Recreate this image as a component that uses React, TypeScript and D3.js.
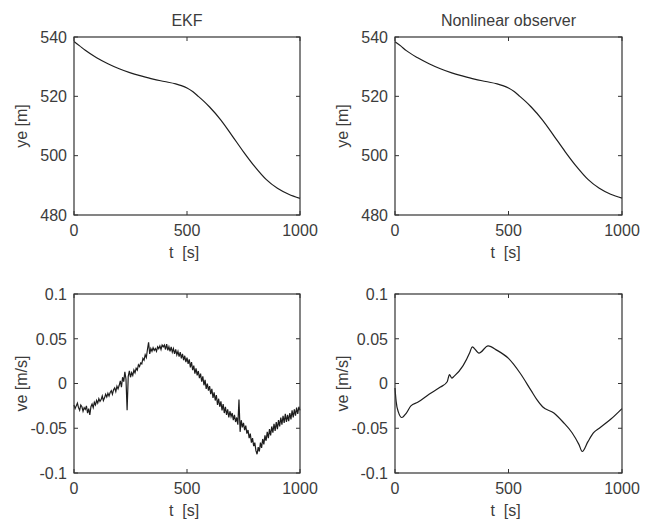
import React from 'react';
import * as d3 from 'd3';

// ye [m] position estimate (both estimators agree closely)
const yeTime = [0, 25, 50, 100, 150, 200, 250, 300, 350, 400, 450, 475, 500, 525, 550, 575, 600, 650, 700, 750, 800, 850, 900, 950, 1000];
const yeEkf = [538.5, 537, 535.5, 533, 531, 529.3, 527.9, 526.8, 525.8, 525, 524.2, 523.6, 522.8, 521.6, 520, 518.3, 516.4, 512, 506.7, 501.3, 496.3, 492, 489, 487, 485.6];
const yeObs = [538.4, 537, 535.4, 533, 531, 529.3, 527.9, 526.8, 525.8, 525, 524.2, 523.6, 522.8, 521.6, 520, 518.3, 516.4, 512, 506.7, 501.3, 496.3, 492, 489, 487, 485.7];

// ve [m/s] EKF, sampled every 5 s (noisy)
const veEkf = [
  -0.024, -0.028, -0.025, -0.022, -0.027, -0.030, -0.024, -0.026, -0.031, -0.027,
  -0.029, -0.025, -0.033, -0.028, -0.035, -0.026, -0.023, -0.027, -0.021, -0.024,
  -0.019, -0.022, -0.017, -0.020, -0.018, -0.014, -0.019, -0.016, -0.012, -0.015,
  -0.011, -0.014, -0.010, -0.008, -0.012, -0.007, -0.005, -0.009, -0.003, -0.006,
  -0.002, 0.003, -0.004, 0.007, 0.002, 0.013, 0.005, -0.030, 0.008, 0.014,
  0.007, 0.012, 0.009, 0.015, 0.012, 0.017, 0.015, 0.021, 0.019, 0.023,
  0.022, 0.028, 0.026, 0.032, 0.029, 0.038, 0.046, 0.033, 0.039, 0.036,
  0.040, 0.037, 0.039, 0.036, 0.041, 0.039, 0.042, 0.038, 0.043, 0.041,
  0.043, 0.038, 0.044, 0.037, 0.041, 0.036, 0.041, 0.035, 0.039, 0.033,
  0.038, 0.032, 0.036, 0.030, 0.035, 0.028, 0.033, 0.026, 0.031, 0.024,
  0.029, 0.022, 0.027, 0.018, 0.024, 0.015, 0.020, 0.011, 0.017, 0.009,
  0.014, 0.006, 0.011, 0.002, 0.008, -0.002, 0.004, -0.006, 0.000, -0.008,
  -0.003, -0.012, -0.006, -0.016, -0.010, -0.019, -0.013, -0.024, -0.017, -0.026,
  -0.020, -0.030, -0.023, -0.033, -0.026, -0.035, -0.029, -0.038, -0.031, -0.037,
  -0.033, -0.041, -0.035, -0.043, -0.038, -0.046, -0.018, -0.054, -0.041, -0.049,
  -0.044, -0.052, -0.047, -0.056, -0.052, -0.061, -0.056, -0.066, -0.061, -0.070,
  -0.066, -0.075, -0.079, -0.071, -0.076, -0.066, -0.072, -0.062, -0.068, -0.058,
  -0.064, -0.054, -0.061, -0.051, -0.058, -0.048, -0.055, -0.045, -0.053, -0.043,
  -0.051, -0.041, -0.048, -0.038, -0.046, -0.036, -0.044, -0.034, -0.043, -0.035,
  -0.042, -0.033, -0.040, -0.030, -0.038, -0.029, -0.036, -0.027, -0.034, -0.026,
  -0.030,
];

// ve [m/s] nonlinear observer (smooth)
const veObsTime = [0, 5, 15, 30, 50, 70, 100, 150, 200, 230, 240, 250, 260, 300, 330, 340, 370, 410, 450, 500, 550, 600, 625, 650, 700, 740, 780, 810, 825, 850, 875, 900, 950, 1000];
const veObs = [-0.005, -0.02, -0.032, -0.038, -0.033, -0.025, -0.021, -0.012, -0.004, 0.002, 0.01, 0.006, 0.008, 0.02, 0.035, 0.041, 0.034, 0.042, 0.037, 0.028, 0.012, -0.008, -0.018, -0.026, -0.033, -0.043, -0.055, -0.068, -0.076, -0.065, -0.055, -0.05, -0.04, -0.028];

const xTicks = [0, 500, 1000];
const yeTicks = [480, 500, 520, 540];
const veTicks = [-0.1, -0.05, 0, 0.05, 0.1];

const FONT = '"Liberation Sans", Arial, sans-serif';
const TXT = '#3c3c3c';
const FS = 16;

type PanelProps = {
  left: number; top: number; width: number; height: number;
  title?: string; ylabel: string;
  yDomain: [number, number]; yTicks: number[];
  fmt: (v: number) => string;
  points: [number, number][];
  smooth?: boolean;
};

const Panel = ({ left, top, width, height, title, ylabel, yDomain, yTicks, fmt, points, smooth }: PanelProps) => {
  const x = d3.scaleLinear().domain([0, 1000]).range([left, left + width]);
  const y = d3.scaleLinear().domain(yDomain).range([top + height, top]);
  const line = d3.line<[number, number]>().x(d => x(d[0])).y(d => y(d[1]));
  if (smooth) line.curve(d3.curveMonotoneX);
  const tl = 4;
  return (
    <g>
      {title && (
        <text x={left + width / 2} y={top - 11} textAnchor="middle" fontSize={FS} fill={TXT}>{title}</text>
      )}
      <path d={line(points) || ''} fill="none" stroke="#1e1e1e" strokeWidth={1.2} />
      <rect x={left} y={top} width={width} height={height} fill="none" stroke="#333" strokeWidth={1.2} />
      {xTicks.map(t => (
        <g key={'x' + t}>
          <line x1={x(t)} x2={x(t)} y1={top + height} y2={top + height - tl} stroke="#333" />
          <line x1={x(t)} x2={x(t)} y1={top} y2={top + tl} stroke="#333" />
          <text x={x(t)} y={top + height + 21} textAnchor="middle" fontSize={FS} fill={TXT}>{t}</text>
        </g>
      ))}
      {yTicks.map(t => (
        <g key={'y' + t}>
          <line x1={left} x2={left + tl} y1={y(t)} y2={y(t)} stroke="#333" />
          <line x1={left + width} x2={left + width - tl} y1={y(t)} y2={y(t)} stroke="#333" />
          <text x={left - 7} y={y(t)} dy="0.36em" textAnchor="end" fontSize={FS} fill={TXT}>{fmt(t)}</text>
        </g>
      ))}
      <text x={left + width / 2 - 3} y={top + height + 43} textAnchor="middle" fontSize={FS} fill={TXT} xmlSpace="preserve">{'t  [s]'}</text>
      <text transform={`translate(${left - 47},${top + height / 2}) rotate(-90)`} textAnchor="middle" fontSize={FS} fill={TXT}>{ylabel}</text>
    </g>
  );
};

const fmtVe = (v: number) => (v === 0 ? '0' : String(v));

export default function App() {
  const ekfYe = yeTime.map((t, i) => [t, yeEkf[i]] as [number, number]);
  const obsYe = yeTime.map((t, i) => [t, yeObs[i]] as [number, number]);
  const ekfVe = veEkf.map((v, i) => [i * 5, v] as [number, number]);
  const obsVe = veObsTime.map((t, i) => [t, veObs[i]] as [number, number]);
  return (
    <svg width={651} height={522} style={{ position: 'absolute', left: 0, top: 0, background: '#fff' }} fontFamily={FONT}>
      <Panel left={74} top={37} width={226} height={178} title="EKF" ylabel="ye [m]" yDomain={[480, 540]} yTicks={yeTicks} fmt={String} points={ekfYe} smooth />
      <Panel left={395} top={37} width={227} height={178} title="Nonlinear observer" ylabel="ye [m]" yDomain={[480, 540]} yTicks={yeTicks} fmt={String} points={obsYe} smooth />
      <Panel left={74} top={294} width={226} height={179} ylabel="ve [m/s]" yDomain={[-0.1, 0.1]} yTicks={veTicks} fmt={fmtVe} points={ekfVe} />
      <Panel left={395} top={294} width={227} height={179} ylabel="ve [m/s]" yDomain={[-0.1, 0.1]} yTicks={veTicks} fmt={fmtVe} points={obsVe} smooth />
    </svg>
  );
}
